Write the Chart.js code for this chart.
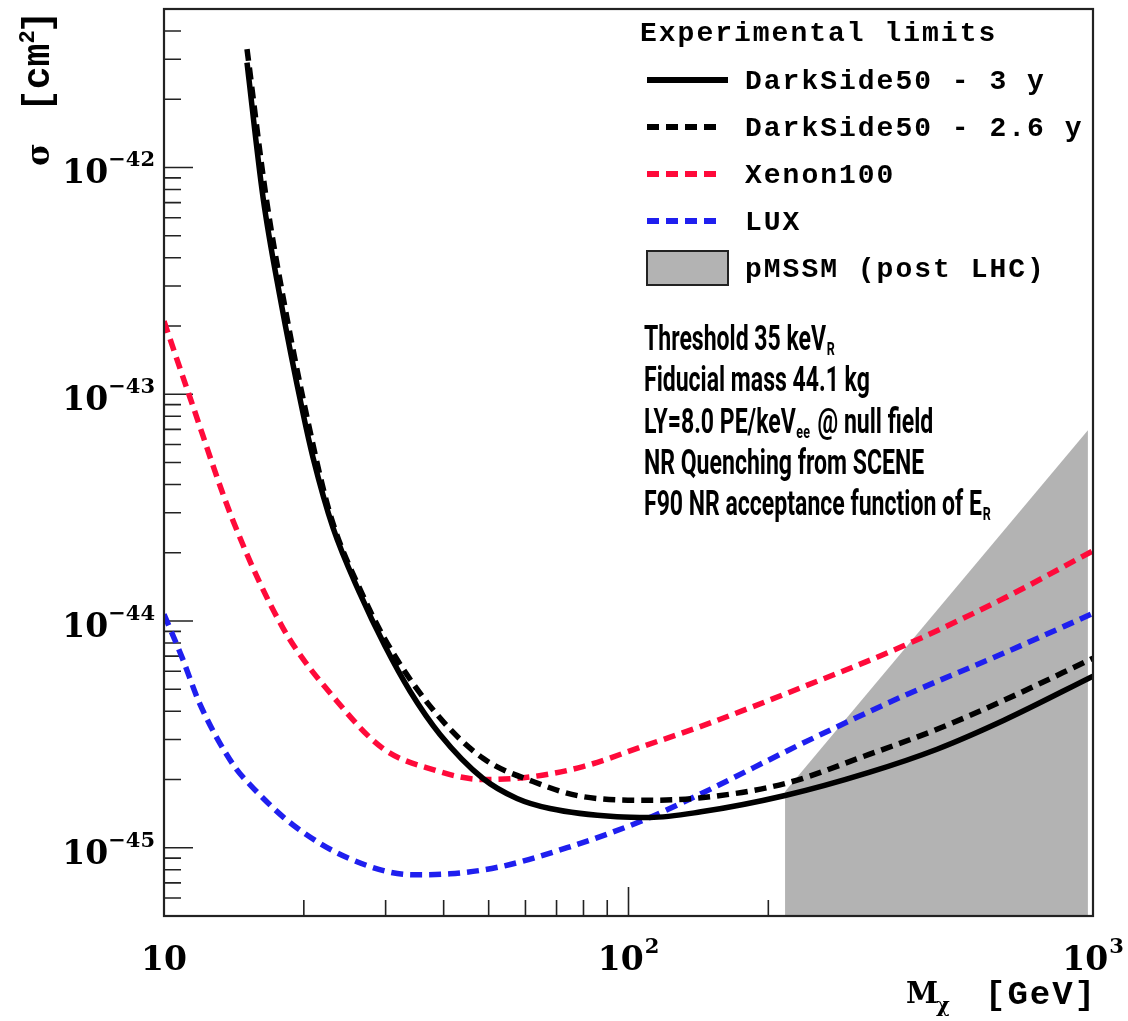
<!DOCTYPE html>
<html>
<head>
<meta charset="utf-8">
<script src="https://cdn.jsdelivr.net/npm/chart.js@4.4.1/dist/chart.umd.min.js"></script>
<style>
  html, body { margin: 0; background: #fff; }
  #wrap { width: 1128px; height: 1021px; position: relative; }
</style>
</head>
<body>
<div id="wrap"><canvas id="limits"></canvas></div>
<script>
// WIMP mass [GeV] and cross-section [cm^2] for each exclusion curve
const ds3Mass = [15.09, 16.33, 17.77, 19.92, 20.93, 23.11, 26.42, 29.91, 33.86, 39.28, 48.62, 57.54, 67.76, 94.45, 111.2, 143.2, 217.3, 329.5, 461.5, 643.2, 1000];
const ds3Sigma = [2.9e-42, 7.44e-43, 2.69e-43, 8.24e-44, 5.26e-44, 2.58e-44, 1.32e-44, 7.75e-45, 4.9e-45, 3.16e-45, 2.02e-45, 1.65e-45, 1.49e-45, 1.37e-45, 1.36e-45, 1.44e-45, 1.70e-45, 2.15e-45, 2.72e-45, 3.65e-45, 5.71e-45];

const ds26Mass = [15.09, 16.58, 18.04, 20.32, 22.77, 26.69, 30.66, 38.7, 48.62, 62.29, 79.8, 111.2, 143.2, 217.3, 329.5, 461.5, 643.2, 1000];
const ds26Sigma = [3.33e-42, 7.44e-43, 2.69e-43, 7.91e-44, 2.97e-44, 1.32e-44, 7.6e-45, 3.87e-45, 2.48e-45, 1.96e-45, 1.68e-45, 1.62e-45, 1.66e-45, 1.92e-45, 2.58e-45, 3.33e-45, 4.47e-45, 6.85e-45];

const xenonMass = [10, 11.37, 14.08, 18.04, 23.57, 29.61, 37.94, 48.62, 62.29, 79.8, 107.4, 143.2, 236.3, 390, 643.2, 1000];
const xenonSigma = [2.1e-43, 9.7e-44, 2.77e-44, 9.31e-45, 4.43e-45, 2.74e-45, 2.21e-45, 2.0e-45, 2.06e-45, 2.28e-45, 2.8e-45, 3.43e-45, 5.1e-45, 7.75e-45, 1.26e-44, 2.04e-44];

const luxMass = [10, 10.93, 11.95, 14.08, 15.31, 18.96, 25.14, 34.37, 41.28, 52.89, 73.74, 107.4, 143.2, 236.3, 390, 643.2, 1000];
const luxSigma = [1.07e-44, 6.93e-45, 4.3e-45, 2.33e-45, 1.9e-45, 1.26e-45, 8.94e-46, 7.6e-46, 7.67e-46, 8.24e-46, 1.0e-45, 1.32e-45, 1.73e-45, 2.88e-45, 4.66e-45, 7.22e-45, 1.08e-44];

// pMSSM band: upper edge, filled down to the axis
const bandMass = [217.3, 975];
const bandSigma = [1.77e-45, 6.93e-44];

// axis ticks
const xMajor = [10, 100, 1000];
const xMajorExp = ['', '2', '3'];
const xMinor = [20, 30, 40, 50, 60, 70, 80, 90, 200, 300, 400, 500, 600, 700, 800, 900];
const yMajor = [1e-42, 1e-43, 1e-44, 1e-45];
const yMajorExp = ['\u221242', '\u221243', '\u221244', '\u221245'];
const yMinor = [];
[-46, -45, -44, -43, -42].forEach(e => { for (let k = 2; k <= 9; k++) yMinor.push(k * Math.pow(10, e)); });

const legendItems = [
  { label: 'DarkSide50 - 3 y', color: '#000', dash: [] },
  { label: 'DarkSide50 - 2.6 y', color: '#000', dash: [12, 7] },
  { label: 'Xenon100', color: '#ff0a3a', dash: [12, 7] },
  { label: 'LUX', color: '#1f1fef', dash: [12, 7] },
  { label: 'pMSSM (post LHC)', box: '#b3b3b3' }
];

// analysis notes: [text, subscript, trailing text]
const notes = [
  ['Threshold 35 keV', 'R'],
  ['Fiducial mass 44.1 kg', ''],
  ['LY=8.0 PE/keV', 'ee', ' @ null field'],
  ['NR Quenching from SCENE', ''],
  ['F90 NR acceptance function of E', 'R']
];

const pts = (xs, ys) => xs.map((x, i) => ({ x: x, y: ys[i] }));

function curve(xs, ys, color, dash) {
  return {
    data: pts(xs, ys),
    borderColor: color,
    borderWidth: 5.5,
    borderDash: dash,
    borderCapStyle: 'butt',
    pointRadius: 0,
    fill: false,
    cubicInterpolationMode: 'monotone'
  };
}

const MONO = '"Liberation Mono", "DejaVu Sans Mono", monospace';
const SERIF = '"DejaVu Serif", serif';

const decor = {
  id: 'decor',
  beforeDatasetsDraw(chart) {
    const { ctx, chartArea: a, scales: { x, y } } = chart;
    ctx.save();
    ctx.strokeStyle = '#222';
    ctx.lineWidth = 1.6;
    ctx.beginPath();
    yMajor.forEach(v => { const p = y.getPixelForValue(v); ctx.moveTo(a.left, p); ctx.lineTo(a.left + 29, p); });
    yMinor.forEach(v => {
      if (v < y.min || v > y.max) return;
      const p = y.getPixelForValue(v); ctx.moveTo(a.left, p); ctx.lineTo(a.left + 17, p);
    });
    xMajor.forEach(v => { const p = x.getPixelForValue(v); ctx.moveTo(p, a.bottom); ctx.lineTo(p, a.bottom - 29); });
    xMinor.forEach(v => { const p = x.getPixelForValue(v); ctx.moveTo(p, a.bottom); ctx.lineTo(p, a.bottom - 16); });
    ctx.stroke();
    ctx.restore();
  },
  afterDatasetsDraw(chart) {
    const { ctx, chartArea: a, scales: { x, y } } = chart;
    ctx.save();
    // frame
    ctx.strokeStyle = '#222';
    ctx.lineWidth = 2.2;
    ctx.strokeRect(a.left, a.top, a.right - a.left, a.bottom - a.top);

    ctx.fillStyle = '#000';
    ctx.textBaseline = 'alphabetic';
    ctx.textAlign = 'left';

    // y tick labels
    yMajor.forEach((v, i) => {
      const p = y.getPixelForValue(v);
      ctx.font = 'bold 21px ' + SERIF;
      const w2 = ctx.measureText(yMajorExp[i]).width;
      ctx.font = 'bold 33px ' + SERIF;
      const w1 = ctx.measureText('10').width;
      const right = a.left - 9;
      ctx.fillText('10', right - w2 - w1, p + 16);
      ctx.font = 'bold 21px ' + SERIF;
      ctx.fillText(yMajorExp[i], right - w2, p - 1);
    });

    // x tick labels
    xMajor.forEach((v, i) => {
      const p = x.getPixelForValue(v);
      ctx.font = 'bold 21px ' + SERIF;
      const w2 = xMajorExp[i] ? ctx.measureText(xMajorExp[i]).width + 1 : 0;
      ctx.font = 'bold 33px ' + SERIF;
      const w1 = ctx.measureText('10').width;
      const start = p - (w1 + w2) / 2;
      ctx.fillText('10', start, 970);
      if (xMajorExp[i]) {
        ctx.font = 'bold 21px ' + SERIF;
        ctx.fillText(xMajorExp[i], start + w1 + 1, 953);
      }
    });

    // x axis title
    ctx.font = 'bold 29px ' + SERIF;
    ctx.fillText('M', 906, 1003);
    ctx.font = 'bold 21px ' + SERIF;
    ctx.fillText('\u03c7', 936, 1012);
    ctx.font = 'bold 34px ' + MONO;
    ctx.letterSpacing = '2px';
    ctx.textAlign = 'right';
    ctx.fillText('[GeV]', 1097, 1004);
    ctx.textAlign = 'left';
    ctx.letterSpacing = '0px';

    // y axis title, reading upwards
    ctx.save();
    ctx.translate(49, 166);
    ctx.rotate(-Math.PI / 2);
    ctx.font = 'bold 31px ' + SERIF;
    ctx.fillText('\u03c3', 0, 0);
    ctx.font = 'bold 38px ' + MONO;
    ctx.fillText('[cm', 54, 0);
    const wcm = ctx.measureText('[cm').width;
    ctx.font = 'bold 22px ' + MONO;
    ctx.fillText('2', 54 + wcm, -15);
    ctx.font = 'bold 38px ' + MONO;
    ctx.fillText(']', 54 + wcm + 10, 0);
    ctx.restore();

    // legend
    ctx.font = 'bold 28px ' + MONO;
    ctx.letterSpacing = '2px';
    ctx.fillText('Experimental limits', 640, 41);
    const rowY = [80, 127, 174, 221, 268];
    legendItems.forEach((it, i) => {
      const cy = rowY[i];
      if (it.box) {
        ctx.fillStyle = it.box;
        ctx.fillRect(647, cy - 17, 81, 34);
        ctx.strokeStyle = '#222';
        ctx.lineWidth = 2;
        ctx.strokeRect(647, cy - 17, 81, 34);
      } else {
        ctx.strokeStyle = it.color;
        ctx.lineWidth = 6;
        ctx.lineCap = 'butt';
        ctx.setLineDash(it.dash);
        ctx.beginPath();
        ctx.moveTo(647, cy);
        ctx.lineTo(it.dash.length ? 720 : 728, cy);
        ctx.stroke();
        ctx.setLineDash([]);
      }
      ctx.fillStyle = '#000';
      ctx.fillText(it.label, 745, cy + 9);
    });
    ctx.letterSpacing = '0px';

    // analysis notes, condensed
    const big = 'bold 35px Roboto, "Noto Sans", sans-serif';
    const small = 'bold 19px Roboto, "Noto Sans", sans-serif';
    ctx.font = big;
    const sx = 338 / ctx.measureText('F90 NR acceptance function of E').width;
    notes.forEach((n, i) => {
      const base = 350 + i * 41.3;
      ctx.save();
      ctx.translate(644, base);
      ctx.scale(sx, 1);
      let cx = 0;
      ctx.font = big;
      ctx.fillText(n[0], cx, 0);
      cx += ctx.measureText(n[0]).width + 1;
      if (n[1]) {
        ctx.font = small;
        ctx.fillText(n[1], cx, 5);
        cx += ctx.measureText(n[1]).width + 3;
      }
      if (n[2]) {
        ctx.font = big;
        ctx.fillText(n[2], cx, 0);
      }
      ctx.restore();
    });
    ctx.restore();
  }
};

new Chart(document.getElementById('limits'), {
  type: 'line',
  data: {
    datasets: [
      curve(ds3Mass, ds3Sigma, '#000', []),
      curve(ds26Mass, ds26Sigma, '#000', [12, 7]),
      curve(xenonMass, xenonSigma, '#ff0a3a', [12, 7]),
      curve(luxMass, luxSigma, '#1f1fef', [12, 7]),
      {
        data: pts(bandMass, bandSigma),
        fill: 'start',
        backgroundColor: '#b3b3b3',
        borderWidth: 0,
        pointRadius: 0,
        tension: 0
      }
    ]
  },
  options: {
    responsive: true,
    maintainAspectRatio: false,
    animation: false,
    layout: { padding: { left: 164, top: 9, right: 35, bottom: 105 } },
    plugins: { legend: { display: false }, tooltip: { enabled: false } },
    scales: {
      x: { type: 'logarithmic', min: 10, max: 1000, display: false },
      y: { type: 'logarithmic', min: 5e-46, max: 5e-42, display: false }
    }
  },
  plugins: [decor]
});
</script>
</body>
</html>
